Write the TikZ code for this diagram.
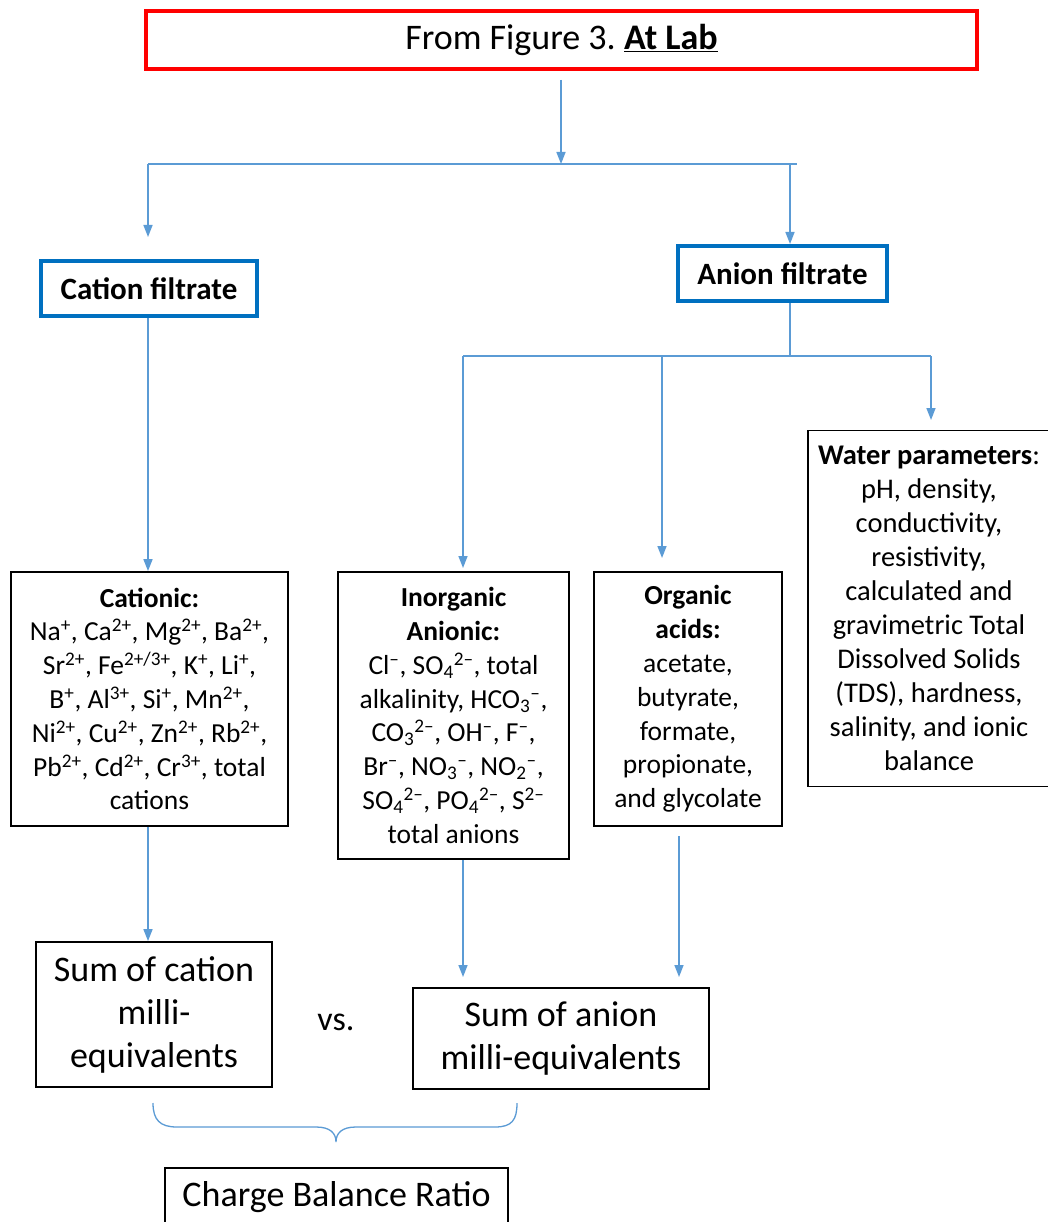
\documentclass[tikz,border=0pt]{standalone}
\usepackage{fontspec}
\setmainfont{Carlito}
\usetikzlibrary{arrows.meta}
\definecolor{lineblue}{RGB}{91,155,213}
\definecolor{boxblue}{RGB}{0,112,192}
\definecolor{boxred}{RGB}{255,0,0}
\newcommand{\isup}[1]{\textsuperscript{#1}}
\newcommand{\isub}[1]{\textsubscript{#1}}
\newcommand{\mn}{\textendash}
\frenchspacing
\begin{document}
\begin{tikzpicture}[x=1pt,y=-1pt,
  conn/.style={draw=lineblue,line width=1.5pt},
  arr/.style={conn,-{Triangle[length=12pt,width=9pt]}},
  redbox/.style={draw=boxred,line width=3.5pt,inner sep=0pt,align=center,font=\fontsize{36}{44}\selectfont},
  bluebox/.style={draw=boxblue,line width=4pt,inner sep=0pt,align=center,font=\fontsize{31}{37}\selectfont\bfseries},
  listbox/.style={draw=black,line width=1.8pt,inner sep=0pt,align=center,font=\fontsize{27.5}{33.8}\selectfont},
  sumbox/.style={draw=black,line width=1.8pt,inner sep=0pt,align=center,font=\fontsize{36}{43}\selectfont}]
\useasboundingbox (0,0) rectangle (1047,1222);
\fill[white] (0,0) rectangle (1047,1222);

% nodes
\node[redbox,minimum width=831pt,minimum height=58pt] (title) at (561.5,40) {From Figure 3. \textbf{\underline{At Lab}}};
\node[bluebox,minimum width=216pt,minimum height=55pt] (cfil) at (149,288.5) {Cation filtrate};
\node[bluebox,minimum width=209pt,minimum height=55pt] (afil) at (782.5,273.5) {Anion filtrate};

\node[listbox,minimum width=277pt,minimum height=254pt] (cationic) at (149.5,699) {\textbf{Cationic:}\\
Na\isup{+}, Ca\isup{2+}, Mg\isup{2+}, Ba\isup{2+},\\
Sr\isup{2+}, Fe\isup{2+/3+}, K\isup{+}, Li\isup{+},\\
B\isup{+}, Al\isup{3+}, Si\isup{+}, Mn\isup{2+},\\
Ni\isup{2+}, Cu\isup{2+}, Zn\isup{2+}, Rb\isup{2+},\\
Pb\isup{2+}, Cd\isup{2+}, Cr\isup{3+}, total\\
cations};

\node[listbox,minimum width=231pt,minimum height=287pt] (inorg) at (453.5,715.5) {\textbf{Inorganic}\\
\textbf{Anionic:}\\
Cl\isup{\mn}, SO\isub{4}\isup{2\mn}, total\\
alkalinity, HCO\isub{3}\isup{\mn},\\
CO\isub{3}\isup{2\mn}, OH\isup{\mn}, F\isup{\mn},\\
Br\isup{\mn}, NO\isub{3}\isup{\mn}, NO\isub{2}\isup{\mn},\\
SO\isub{4}\isup{2\mn}, PO\isub{4}\isup{2\mn}, S\isup{2\mn}\\
total anions};

\node[listbox,minimum width=188pt,minimum height=254pt] (organic) at (688,699) {\textbf{Organic}\\
\textbf{acids:}\\
acetate,\\
butyrate,\\
formate,\\
propionate,\\
and glycolate};

\node[listbox,minimum width=242pt,minimum height=356pt,font=\fontsize{28.5}{34}\selectfont] (water) at (929,608.5) {\textbf{Water parameters}:\\
pH, density,\\
conductivity,\\
resistivity,\\
calculated and\\
gravimetric Total\\
Dissolved Solids\\
(TDS), hardness,\\
salinity, and ionic\\
balance};

\node[sumbox,minimum width=236pt,minimum height=145pt] (sumc) at (154,1014.5) {Sum of cation\\milli-\\equivalents};
\node[sumbox,minimum width=296pt,minimum height=101pt] (suma) at (561,1038.5) {Sum of anion\\milli-equivalents};
\node[font=\fontsize{34}{40}\selectfont] (vs) at (336,1022) {vs.};
\node[sumbox,minimum width=343pt,minimum height=58pt] (cbr) at (336.5,1197) {Charge Balance Ratio};

% junction coordinates
\coordinate (t0) at (561,80);
\coordinate (j0) at (561,164);
\coordinate (hl) at (148,164);
\coordinate (hr) at (797,164);
\coordinate (hra) at (790,164);
\coordinate (cfin) at (148,237);
\coordinate (j2) at (790,356);
\coordinate (h2l) at (463,356);
\coordinate (h2m) at (662,356);
\coordinate (h2r) at (931,356);
\coordinate (inin) at (463,568);
\coordinate (orgin) at (662,558);
\coordinate (wain) at (931,420);
\coordinate (sain) at (463,977);
\coordinate (org0) at (679,836);
\coordinate (sain2) at (679,977);
\coordinate (cx) at (148,0);

% connectors
\draw[arr] (t0) -- (j0);
\draw[conn] (hl) -- (hr);
\draw[arr] (hl) -- (cfin);
\draw[arr] (hra) -- (hra |- afil.north);
\draw[conn] (afil.south -| j2) -- (j2);
\draw[conn] (h2l) -- (h2r);
\draw[arr] (h2l) -- (inin);
\draw[arr] (h2m) -- (orgin);
\draw[arr] (h2r) -- (wain);
\draw[arr] (cfil.south -| cx) -- (cationic.north -| cx);
\draw[arr] (cationic.south -| cx) -- (sumc.north -| cx);
\draw[arr] (inorg.south -| sain) -- (sain);
\draw[arr] (org0) -- (sain2);

% brace
\draw[lineblue,line width=1.3pt]
  (153,1103) .. controls (153,1120) and (160,1127) .. (177,1127)
  -- (316,1127) .. controls (330,1127) and (336,1133) .. (336,1142)
  .. controls (336,1133) and (342,1127) .. (356,1127)
  -- (495,1127) .. controls (512,1127) and (517,1120) .. (517,1103);
\end{tikzpicture}
\end{document}
